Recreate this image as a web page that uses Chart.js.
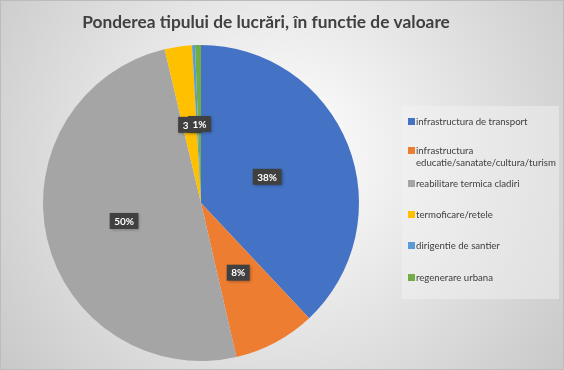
<!DOCTYPE html>
<html>
<head>
<meta charset="utf-8">
<script src="https://cdn.jsdelivr.net/npm/chart.js@4"></script>
<style>
  html, body { margin: 0; padding: 0; background: #fff; }
</style>
</head>
<body>
<canvas id="pieChart" width="564" height="370"></canvas>
<script>
var chartTitle = 'Ponderea tipului de lucrări, în functie de valoare';
var categories = [
    'infrastructura de transport',
    ['infrastructura', 'educatie/sanatate/cultura/turism'],
    'reabilitare termica cladiri',
    'termoficare/retele',
    'dirigentie de santier',
    'regenerare urbana'
];
var shares = [38.0, 8.4, 49.9, 2.8, 0.3, 0.6];
var showLabel = [true, true, true, true, false, true];
var sliceColors = ['#4472C4', '#ED7D31', '#A5A5A5', '#FFC000', '#5B9BD5', '#70AD47'];

// pick a font size so that a string fills the given width
function fitFont(c, text, weight, family, width) {
    c.font = weight + ' 20px ' + family;
    var s = 20 * width / c.measureText(text).width;
    return weight + ' ' + s.toFixed(2) + 'px ' + family;
}

document.addEventListener('DOMContentLoaded', function() {
    var ctx = document.getElementById('pieChart').getContext('2d');

    // gradient background, frame and title
    var backgroundPlugin = {
        id: 'bg',
        beforeDraw: function(chart) {
            var c = chart.ctx, w = chart.width, h = chart.height;
            c.save();
            var g = c.createRadialGradient(w * 0.5, h * 0.42, 10, w * 0.5, h * 0.42, w * 0.62);
            g.addColorStop(0, '#ffffff');
            g.addColorStop(1, '#c9c9c9');
            c.fillStyle = g;
            c.fillRect(0, 0, w, h);
            c.strokeStyle = '#bcbcbc';
            c.lineWidth = 1;
            c.strokeRect(0.5, 0.5, w - 1, h - 1);

            c.font = fitFont(c, chartTitle, 'bold', 'Lato, sans-serif', 368);
            c.fillStyle = '#404040';
            c.textAlign = 'center';
            c.textBaseline = 'middle';
            c.fillText(chartTitle, 266, 22);
            c.restore();
        }
    };

    // dark boxed percentage labels
    var labelPlugin = {
        id: 'pctLabels',
        afterDatasetsDraw: function(chart) {
            var c = chart.ctx;
            var meta = chart.getDatasetMeta(0);
            var total = shares.reduce(function(a, b) { return a + b; }, 0);
            c.save();
            c.font = 'bold 10px Lato, sans-serif';
            c.textAlign = 'center';
            c.textBaseline = 'middle';
            meta.data.forEach(function(arc, i) {
                if (!showLabel[i]) return;
                var mid = (arc.startAngle + arc.endAngle) / 2;
                var r = arc.outerRadius * (i === 0 ? 0.45 : 0.5);
                var x = arc.x + Math.cos(mid) * r;
                var y = arc.y + Math.sin(mid) * r;
                var txt = Math.round(shares[i] / total * 100) + '%';
                var tw = c.measureText(txt).width + 9;
                c.shadowColor = 'rgba(0,0,0,0.35)';
                c.shadowBlur = 3;
                c.shadowOffsetX = 1;
                c.shadowOffsetY = 1;
                c.fillStyle = '#404040';
                c.fillRect(x - tw / 2, y - 8, tw, 16);
                c.shadowColor = 'transparent';
                c.fillStyle = '#ffffff';
                c.fillText(txt, x, y + 0.5);
            });
            c.restore();
        }
    };

    // legend panel on the right
    var legendPlugin = {
        id: 'sideLegend',
        afterDraw: function(chart) {
            var c = chart.ctx;
            var ys = [121, 150, 183, 214, 245, 277];
            c.save();
            c.fillStyle = 'rgba(245,245,245,0.45)';
            c.fillRect(402, 106, 157, 193);
            c.font = fitFont(c, 'educatie/sanatate/cultura/turism', 'normal', 'Lato, sans-serif', 140);
            c.textBaseline = 'middle';
            c.textAlign = 'left';
            categories.forEach(function(cat, i) {
                c.fillStyle = sliceColors[i];
                c.fillRect(408, ys[i] - 3, 7, 7);
                c.fillStyle = '#404040';
                var lines = Array.isArray(cat) ? cat : [cat];
                lines.forEach(function(line, k) {
                    c.fillText(line, 416, ys[i] + 0.5 + k * 12);
                });
            });
            c.restore();
        }
    };

    var pieChart = new Chart(ctx, {
        type: 'pie',
        data: {
            labels: categories,
            datasets: [{
                data: shares,
                backgroundColor: sliceColors,
                borderWidth: 0
            }]
        },
        options: {
            responsive: false,
            animation: false,
            layout: {
                padding: { left: 43, right: 205, top: 45, bottom: 9 }
            },
            plugins: {
                legend: { display: false },
                tooltip: { enabled: false },
                title: { display: false }
            }
        },
        plugins: [backgroundPlugin, labelPlugin, legendPlugin]
    });
});
</script>
</body>
</html>
